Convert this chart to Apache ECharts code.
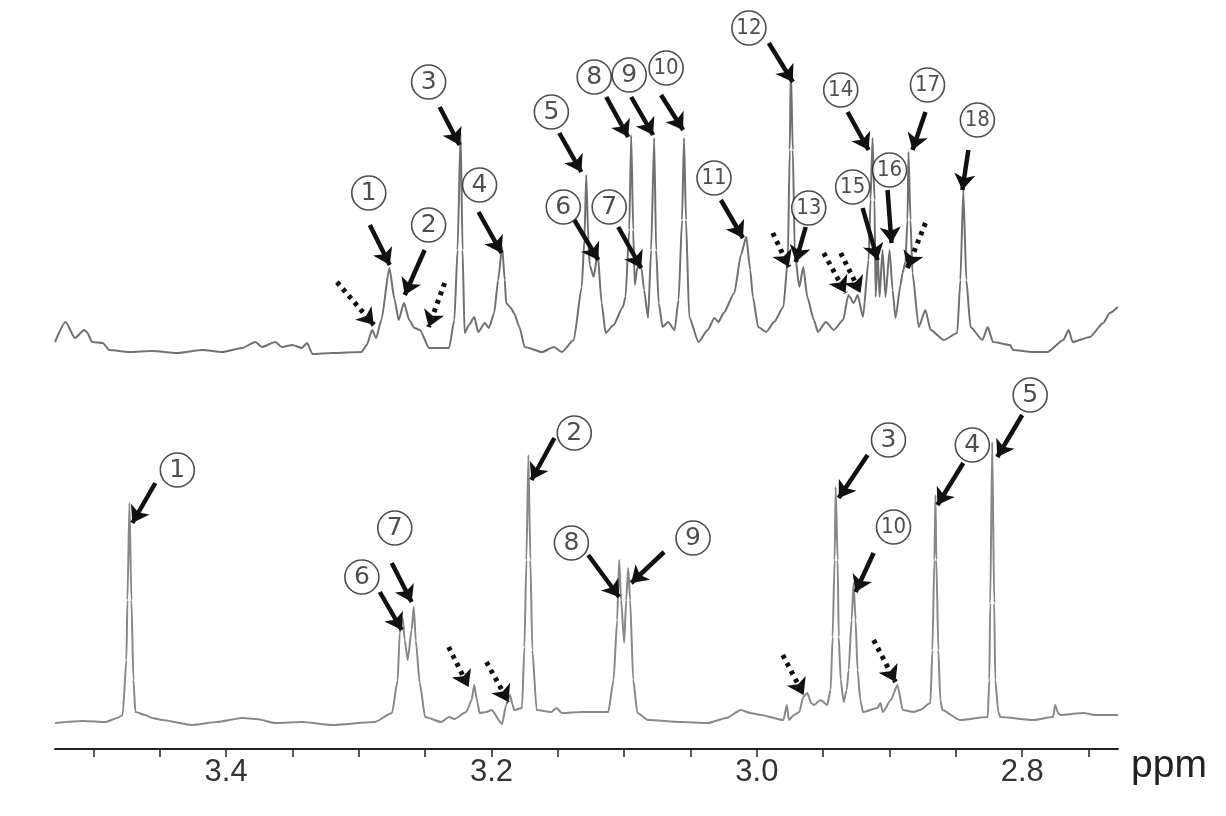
<!DOCTYPE html>
<html><head><meta charset="utf-8">
<script src="https://cdn.jsdelivr.net/npm/echarts@6/dist/echarts.min.js"></script>
<style>html,body{margin:0;padding:0;background:#fff}#c{width:1226px;height:816px}</style>
</head><body><div id="c"></div>
<script>
// ---- data (ppm, intensity) ----
const upperTrace = [
[3.529,10],[3.521,30],[3.514,14],[3.507,22],[3.505,20],[3.501,10],[3.493,9],[3.488,2],[3.473,0],[3.456,1],[3.437,-1],[3.418,2],[3.403,0],[3.388,4],[3.378,10],[3.373,5],[3.363,10],[3.358,5],[3.350,7],[3.343,4],[3.339,9],[3.335,-2],[3.320,-1],[3.298,0],[3.294,7],[3.290,22],[3.287,14],[3.283,32],[3.277,84],[3.273,52],[3.270,32],[3.266,49],[3.262,32],[3.258,24],[3.254,22],[3.247,4],[3.232,4],[3.228,32],[3.2256,102],[3.2233,220],[3.2218,102],[3.2203,19],[3.217,27],[3.213,35],[3.210,20],[3.205,29],[3.202,24],[3.198,39],[3.195,72],[3.192,105],[3.190,72],[3.189,49],[3.186,45],[3.183,39],[3.179,25],[3.175,5],[3.162,0],[3.153,5],[3.147,0],[3.138,12],[3.132,65],[3.130,112],[3.1286,177],[3.127,112],[3.126,87],[3.123,75],[3.120,99],[3.117,49],[3.114,19],[3.108,27],[3.101,45],[3.099,55],[3.0962,122],[3.0947,217],[3.0932,122],[3.092,67],[3.090,85],[3.087,84],[3.085,62],[3.082,34],[3.0797,102],[3.0774,214],[3.0759,102],[3.074,49],[3.071,25],[3.067,30],[3.062,22],[3.059,52],[3.0564,132],[3.0549,214],[3.0534,132],[3.051,35],[3.044,10],[3.037,22],[3.032,34],[3.029,30],[3.025,39],[3.017,59],[3.012,97],[3.008,115],[3.005,82],[3.003,55],[2.999,25],[2.993,20],[2.987,30],[2.980,45],[2.9767,92],[2.9752,202],[2.9744,285],[2.9729,202],[2.9714,99],[2.968,65],[2.965,85],[2.962,55],[2.957,32],[2.954,20],[2.948,30],[2.942,22],[2.935,32],[2.931,57],[2.927,49],[2.924,57],[2.920,35],[2.9158,92],[2.9143,152],[2.9128,214],[2.9113,152],[2.9105,55],[2.909,99],[2.9075,55],[2.9053,102],[2.903,55],[2.900,102],[2.8977,62],[2.8955,34],[2.8917,67],[2.8902,79],[2.888,90],[2.8865,132],[2.8857,200],[2.8842,132],[2.8827,79],[2.878,25],[2.873,42],[2.869,22],[2.859,12],[2.849,19],[2.8466,72],[2.8444,162],[2.8421,72],[2.839,25],[2.830,12],[2.826,25],[2.822,10],[2.809,7],[2.807,2],[2.792,0],[2.781,0],[2.769,12],[2.765,22],[2.762,10],[2.749,15],[2.739,29],[2.734,39],[2.728,45]
];
const lowerTrace = [
[3.529,-1],[3.508,1],[3.491,0],[3.482,4],[3.478,7],[3.4752,62],[3.4744,122],[3.4729,219],[3.4714,122],[3.4699,42],[3.4684,10],[3.461,7],[3.456,4],[3.448,2],[3.426,-3],[3.407,0],[3.388,4],[3.377,3],[3.363,-1],[3.343,0],[3.320,-3],[3.288,0],[3.275,9],[3.2707,42],[3.2692,89],[3.2669,104],[3.2654,82],[3.2632,62],[3.2602,92],[3.2586,115],[3.2571,82],[3.2541,39],[3.250,5],[3.238,0],[3.232,5],[3.228,3],[3.219,10],[3.215,22],[3.213,37],[3.211,22],[3.209,9],[3.204,10],[3.200,12],[3.192,-2],[3.189,17],[3.186,27],[3.184,17],[3.183,12],[3.177,14],[3.1752,75],[3.1737,162],[3.1722,267],[3.1707,162],[3.1692,72],[3.166,12],[3.155,10],[3.151,14],[3.147,9],[3.132,10],[3.112,10],[3.108,42],[3.1053,102],[3.1038,162],[3.1023,122],[3.100,79],[3.0985,122],[3.097,154],[3.0955,122],[3.0932,42],[3.090,9],[3.082,2],[3.057,0],[3.037,-1],[3.023,4],[3.012,12],[3.005,9],[2.997,7],[2.980,2],[2.9774,17],[2.9759,2],[2.972,7],[2.968,10],[2.965,25],[2.962,29],[2.959,19],[2.957,17],[2.952,22],[2.947,17],[2.9444,32],[2.9429,85],[2.9414,162],[2.9406,235],[2.9391,162],[2.9383,85],[2.9368,42],[2.9346,20],[2.9323,32],[2.9308,52],[2.9286,102],[2.9271,139],[2.9256,102],[2.9241,52],[2.922,22],[2.920,10],[2.909,14],[2.907,19],[2.905,10],[2.899,22],[2.894,37],[2.890,12],[2.882,10],[2.877,12],[2.8692,19],[2.8677,72],[2.8662,162],[2.8654,227],[2.8647,162],[2.8632,72],[2.8617,22],[2.8602,12],[2.847,2],[2.826,5],[2.8248,42],[2.8241,119],[2.8226,280],[2.8211,119],[2.8203,42],[2.818,10],[2.8165,5],[2.7917,2],[2.7767,5],[2.7752,17],[2.7729,9],[2.7714,7],[2.7541,9],[2.7451,7],[2.7278,7]
];
// annotation: [label, ppm, intensity]
const upperLabels = [
['1',3.2925,159],['2',3.2474,127],['3',3.2474,270],['4',3.209,167],['5',3.1549,240],['6',3.1459,145],['7',3.1113,145],['8',3.1226,275],['9',3.0962,277],['10',3.0684,284],['11',3.0323,174],['12',3.006,324],['13',2.9609,144],['14',2.9368,262],['15',2.9278,165],['16',2.900,182],['17',2.8714,267],['18',2.8338,232]
];
// arrows: [fromPpm, fromI, toPpm, toI]
const upperArrows = [
[3.2917,127,3.2767,87],[3.2504,102,3.2654,57],[3.2391,245,3.2241,207],[3.2098,140,3.1925,99],[3.1489,219,3.1323,180],[3.1376,132,3.1195,92],[3.1045,125,3.0872,84],[3.1135,255,3.097,215],[3.0947,255,3.0782,217],[3.0722,257,3.0556,222],[3.0271,152,3.0105,114],[2.991,309,2.9729,270],[2.9632,125,2.9707,90],[2.9316,240,2.9158,202],[2.9203,144,2.909,92],[2.9015,162,2.8985,109],[2.8729,240,2.8827,202],[2.8406,202,2.8451,162]
];
const upperDotted = [
[3.3165,70,3.2887,27],[3.2353,69,3.2474,25],[2.988,119,2.9759,85],[2.9496,99,2.9331,59],[2.9368,99,2.9218,59],[2.8729,129,2.8865,84]
];
const lowerLabels = [
['1',3.4368,252],['7',3.2729,194],['6',3.2977,145],['2',3.1376,289],['8',3.1398,179],['9',3.0481,184],['3',2.9008,282],['10',2.897,195],['4',2.8376,277],['5',2.794,327]
];
const lowerArrows = [
[3.4534,239,3.4707,199],[3.2752,159,3.2602,120],[3.2842,130,3.2677,92],[3.1526,284,3.1699,242],[3.1271,167,3.1038,125],[3.0699,170,3.0947,139],[2.9165,267,2.9383,224],[2.912,169,2.9256,130],[2.8444,259,2.8639,217],[2.8,307,2.8188,265]
];
const lowerDotted = [
[3.2323,75,3.2173,35],[3.2038,60,3.1872,20],[2.9805,67,2.9647,27],[2.912,82,2.8955,40]
];
const tickValues = [3.5,3.45,3.4,3.35,3.3,3.25,3.2,3.15,3.1,3.05,3.0,2.95,2.9,2.85,2.8,2.75];
const tickLabels = [3.4,3.2,3.0,2.8];
const ppmMin = 2.7278, ppmMax = 3.529;
const axisName = 'ppm';

// ---- chart ----
const chart = echarts.init(document.getElementById('c'), null, {renderer:'canvas'});
const ARROW = '#111';
function arrowLines(arr, dotted){
  return arr.map(a => {
    const ls = dotted ? {type:[4,5], width:5, color:ARROW} : {type:'solid', width:4.5, color:ARROW};
    return [{coord:[a[0],a[1]], lineStyle:ls, symbol:'none'}, {coord:[a[2],a[3]], lineStyle:ls, symbol:'arrow'}];
  });
}
function labelData(arr){
  return arr.map(l => ({value:[l[1],l[2]], name:l[0],
    label:{fontSize: l[0].length>1 ? 22 : 25, fontFamily: l[0].length>1 ? 'DejaVu Sans Condensed, DejaVu Sans' : 'DejaVu Sans'}}));
}
function markLineOf(arr, dotted){
  return {silent:true, symbol:['none','arrow'], symbolSize:16, label:{show:false}, animation:false,
    lineStyle:{color:ARROW, width:4.5}, emphasis:{disabled:true}, data:arrowLines(arr, dotted)};
}
const xBase = {type:'value', min:ppmMin, max:ppmMax, inverse:true, splitLine:{show:false}};
const option = {
  animation:false,
  backgroundColor:'#fff',
  grid:[
    {left:55, right:108, top:12, bottom:444, outerBoundsMode:'none', containLabel:false},
    {left:55, right:108, top:382, bottom:67, outerBoundsMode:'none', containLabel:false}
  ],
  xAxis:[
    Object.assign({gridIndex:0, show:false}, xBase),
    Object.assign({gridIndex:1,
      axisLine:{show:true, onZero:false, lineStyle:{color:'#222', width:2}},
      axisTick:{show:true, customValues:tickValues, length:8, lineStyle:{color:'#222', width:1.5}},
      axisLabel:{show:true, customValues:tickLabels, formatter:v=>Number(v).toFixed(1), fontSize:31, color:'#333', fontFamily:'Liberation Sans, Arial, sans-serif', margin:8},
      name:axisName, nameLocation:'start', nameGap:13,
      nameTextStyle:{fontSize:39, color:'#222', fontFamily:'Liberation Sans, Arial, sans-serif', verticalAlign:'top', align:'left', padding:[-2,0,0,0]}
    }, xBase)
  ],
  yAxis:[
    {gridIndex:0, type:'value', min:-20, max:340, show:false, splitLine:{show:false}},
    {gridIndex:1, type:'value', min:-27, max:340, show:false, splitLine:{show:false}}
  ],
  series:[
    {type:'line', xAxisIndex:0, yAxisIndex:0, data:upperTrace, showSymbol:false, symbol:'none', smooth:0.2, smoothMonotone:'x',
      lineStyle:{color:'#707070', width:2}, z:2, markLine:markLineOf(upperArrows,false)},
    {type:'line', xAxisIndex:1, yAxisIndex:1, data:lowerTrace, showSymbol:false, symbol:'none', smooth:0.2, smoothMonotone:'x',
      lineStyle:{color:'#888', width:2}, z:2, markLine:markLineOf(lowerArrows,false)},
    {type:'scatter', xAxisIndex:0, yAxisIndex:0, data:labelData(upperLabels), symbol:'circle', symbolSize:34, clip:false,
      itemStyle:{color:'#fff', borderColor:'#222', borderWidth:1.6}, z:5, silent:true,
      label:{show:true, position:'inside', formatter:'{b}', color:'#222'}, markLine:markLineOf(upperDotted,true)},
    {type:'scatter', xAxisIndex:1, yAxisIndex:1, data:labelData(lowerLabels), symbol:'circle', symbolSize:34, clip:false,
      itemStyle:{color:'#fff', borderColor:'#222', borderWidth:1.6}, z:5, silent:true,
      label:{show:true, position:'inside', formatter:'{b}', color:'#222'}, markLine:markLineOf(lowerDotted,true)}
  ]
};
chart.setOption(option);
</script></body></html>
